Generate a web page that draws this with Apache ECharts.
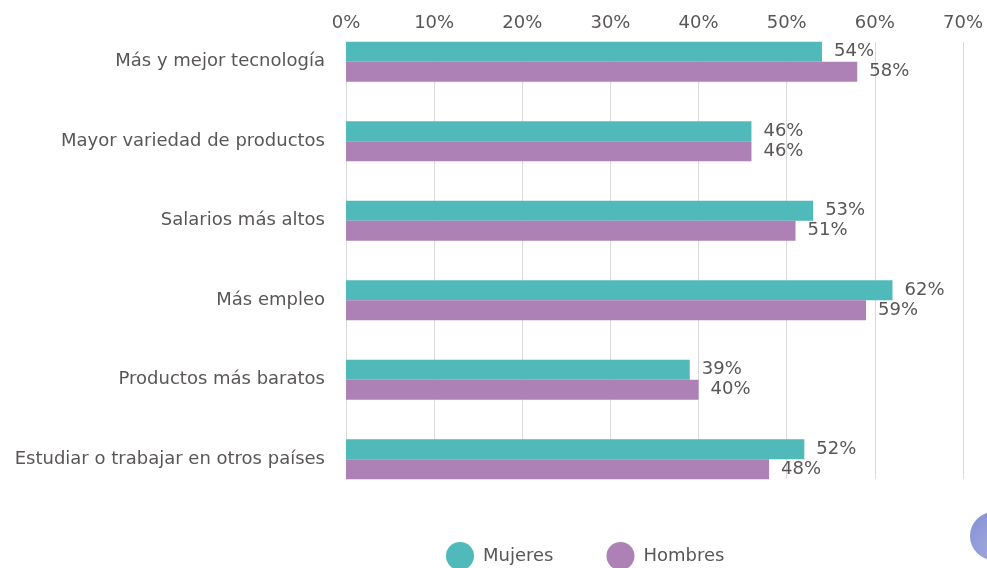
<!DOCTYPE html>
<html><head><meta charset="utf-8">
<script src="https://cdn.jsdelivr.net/npm/echarts@6/dist/echarts.min.js"></script>
<style>html,body{margin:0;padding:0;background:#fff}#c{width:987px;height:568px}</style>
</head><body><div id="c"></div>
<script>
var categories = ["Más y mejor tecnología","Mayor variedad de productos","Salarios más altos","Más empleo","Productos más baratos","Estudiar o trabajar en otros países"];
var mujeres = [54,46,53,62,39,52];
var hombres = [58,46,51,59,40,48];
var tickMax = 70;

var font = "DejaVu Sans";
var txt = '#5a5656';
var chart = echarts.init(document.getElementById('c'));
chart.setOption({
  backgroundColor: '#fff',
  textStyle: {fontFamily: font},
  grid: [
    {left: 346, right: 24, top: 22, bottom: 69},
    {left: 346, right: 24, top: 42, bottom: 89}
  ],
  xAxis: [
    {gridIndex: 0, type: 'value', min: 0, max: tickMax, interval: 10, show: false},
    {gridIndex: 1, type: 'value', position: 'top', min: 0, max: tickMax, interval: 10,
     axisLine: {show: false}, axisTick: {show: false},
     axisLabel: {formatter: '{value}%', color: txt, fontSize: 18, fontFamily: font, margin: 10},
     splitLine: {lineStyle: {color: '#d9d9d9', width: 1}}}
  ],
  yAxis: [
    {gridIndex: 0, type: 'category', data: categories, inverse: true,
     axisLine: {show: false}, axisTick: {show: false},
     axisLabel: {color: txt, fontSize: 18, fontFamily: font, margin: 21}},
    {gridIndex: 1, type: 'category', data: categories, show: false}
  ],
  legend: {
    left: 441, bottom: -7, icon: 'circle', itemWidth: 28, itemHeight: 28, itemGap: 53,
    textStyle: {color: txt, fontSize: 18, fontFamily: font, padding: [0,0,0,4]},
    data: ['Mujeres','Hombres']
  },
  series: [
    {name: 'Mujeres', type: 'bar', data: mujeres, xAxisIndex: 0, yAxisIndex: 0,
     barWidth: 20, barGap: '0%', itemStyle: {color: '#50b9b9'}, z: 1,
     label: {show: true, position: 'right', distance: 12, formatter: '{c}%', color: txt, fontSize: 18, fontFamily: font}},
    {name: 'Hombres', type: 'bar', data: hombres, xAxisIndex: 0, yAxisIndex: 0,
     barWidth: 20, barGap: '0%', itemStyle: {color: '#ad81b6'}, z: 1,
     label: {show: true, position: 'right', distance: 12, formatter: '{c}%', color: txt, fontSize: 18, fontFamily: font}}
  ],
  graphic: [{
    type: 'circle', left: 970, top: 512, shape: {r: 24},
    style: {fill: new echarts.graphic.RadialGradient(0.7, 0.8, 0.8, [{offset: 0, color: '#f59aa6'},{offset: 0.5, color: '#9aa2dc'},{offset: 1, color: '#8c96d6'}])}
  }]
});
</script></body></html>
